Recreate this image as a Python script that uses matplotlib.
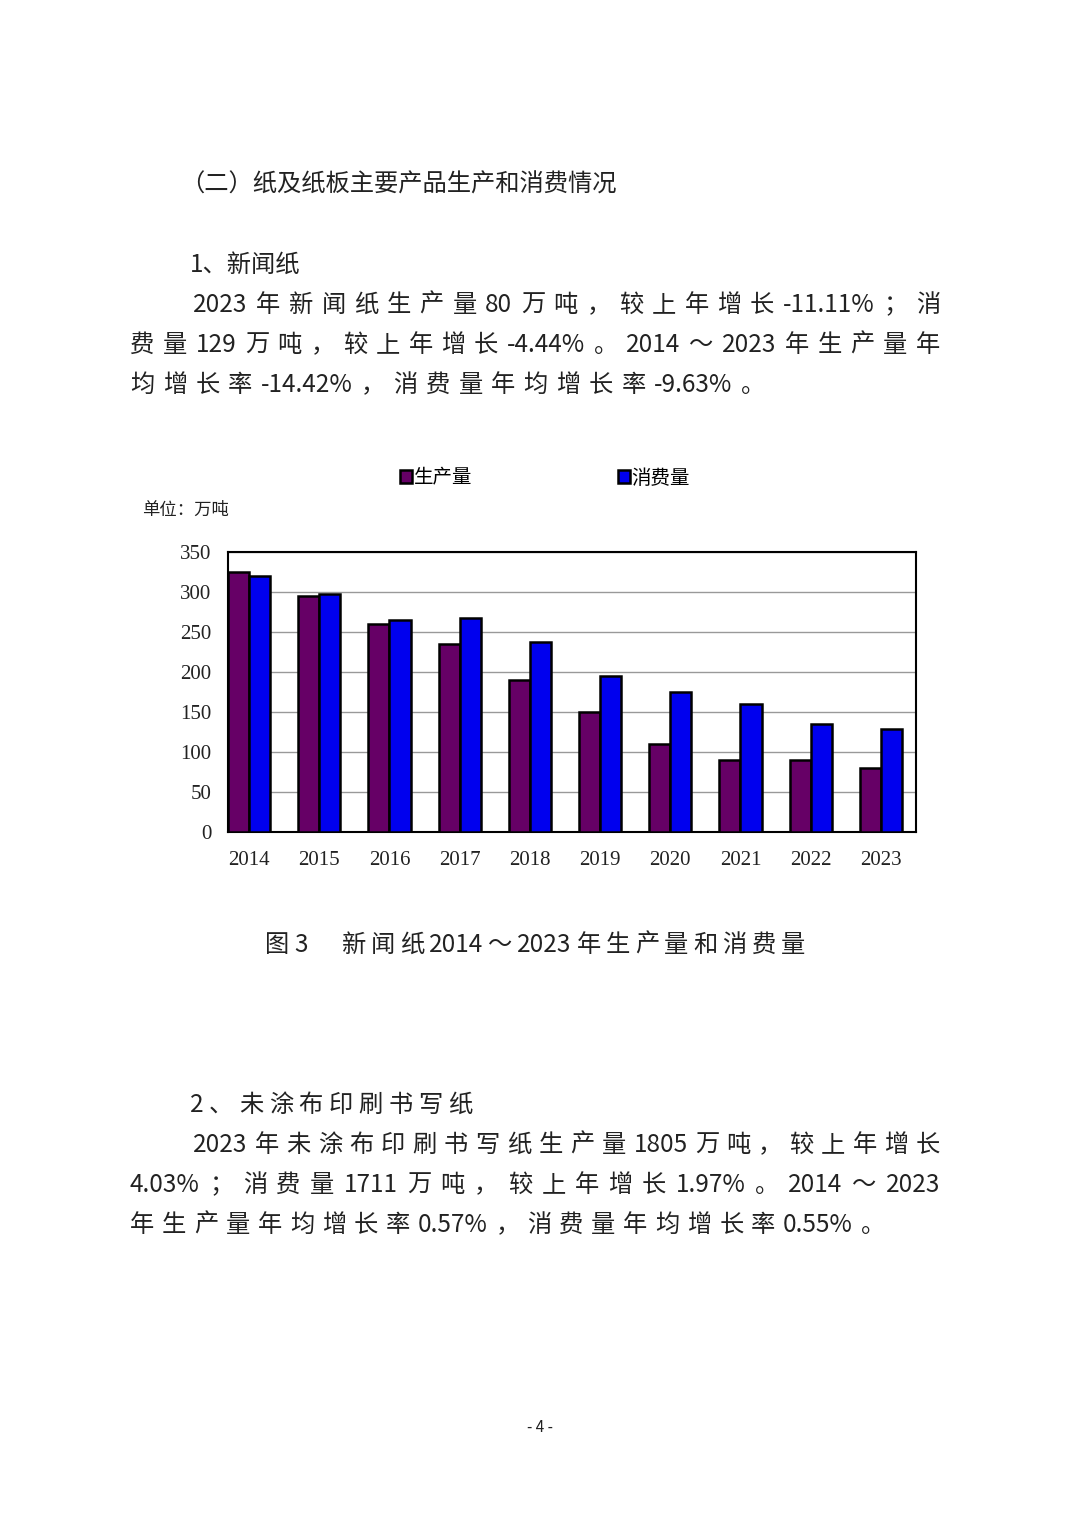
import matplotlib
matplotlib.use("Agg")
import matplotlib.pyplot as plt
import numpy as np
import re

years = ["2014","2015","2016","2017","2018","2019","2020","2021","2022","2023"]
production = [325, 295, 260, 235, 190, 150, 110, 90, 90, 80]
consumption = [320, 298, 265, 267, 237, 195, 175, 160, 135, 129]
yticks = [0, 50, 100, 150, 200, 250, 300, 350]

plt.rcParams['font.family'] = ['Noto Sans CJK SC', 'DejaVu Sans']
fig = plt.figure(figsize=(10.8, 15.27), dpi=100)
W, H = 1080, 1527
renderer = fig.canvas.get_renderer()

def T(x, y, s, size=17.5, ha='left', **kw):
    fig.text(x / W, 1 - y / H, s, fontsize=size, ha=ha, va='center', color='#222222', **kw)

def J(x0, x1, y, s, size=17.5):
    # spread tokens evenly between x0 and x1
    toks = re.findall(r'[A-Za-z0-9.%\-]+|\s|.', s)
    toks = [t for t in toks if t != ' ']
    texts, widths = [], []
    for t in toks:
        tx = fig.text(0, 1 - y / H, t, fontsize=size, va='center', color='#222222')
        texts.append(tx)
        widths.append(tx.get_window_extent(renderer).width)
    gap = (x1 - x0 - sum(widths)) / max(len(toks) - 1, 1)
    cx = x0
    for tx, w in zip(texts, widths):
        tx.set_x(cx / W)
        cx += w + gap

T(180, 185, "（二）纸及纸板主要产品生产和消费情况")
J(180, 728, 185, "（二）纸及纸板主要产品生产和消费情况") if False else None
T(190, 265, "1、新闻纸")
J(193, 940, 305, "2023 年新闻纸生产量 80 万吨，较上年增长-11.11%；消")
J(130, 940, 345, "费量 129 万吨，较上年增长-4.44%。2014～2023 年生产量年")
J(130, 765, 385, "均增长率-14.42%，消费量年均增长率-9.63%。")
J(265, 805, 945, "图 3　新闻纸 2014～2023 年生产量和消费量")
J(190, 472, 1105, "2、未涂布印刷书写纸")
J(193, 940, 1145, "2023 年未涂布印刷书写纸生产量 1805 万吨，较上年增长")
J(130, 940, 1185, "4.03%；消费量 1711 万吨，较上年增长 1.97%。2014～2023")
J(130, 885, 1225, "年生产量年均增长率 0.57%，消费量年均增长率 0.55%。")
T(540, 1427, "- 4 -", size=11, ha='center')
T(142, 510, "单位：万吨", size=12.5)

ax = fig.add_axes([228 / W, 1 - 832 / H, (916 - 228) / W, (832 - 552) / H])
x = np.arange(len(years))
w = 0.3
ax.bar(x - w / 2, production, w, color='#660066', edgecolor='black', linewidth=1.8, label='生产量', zorder=3)
ax.bar(x + w / 2, consumption, w, color='#0000ee', edgecolor='black', linewidth=1.8, label='消费量', zorder=3)
ax.set_xlim(-0.3, 9.5)
ax.set_ylim(0, 350)
ax.set_yticks(yticks)
ax.set_yticklabels([str(v) for v in yticks], fontfamily='Liberation Serif', fontsize=15, color='#222222')
ax.set_xticks(x)
ax.set_xticklabels(years, fontfamily='Liberation Serif', fontsize=15, color='#222222')
ax.tick_params(axis='x', length=0, pad=14)
ax.tick_params(axis='y', length=0, pad=12)
ax.yaxis.grid(True, color='#999999', linewidth=1, zorder=0)
for s in ax.spines.values():
    s.set_linewidth(1.5)
fig.legend(loc='center', bbox_to_anchor=(545 / W, 1 - 478 / H), ncol=2, frameon=False,
           fontsize=14, columnspacing=7.5, handlelength=0.6, handleheight=0.6, handletextpad=0.1)
fig.savefig("out.png", dpi=100, facecolor='white')
